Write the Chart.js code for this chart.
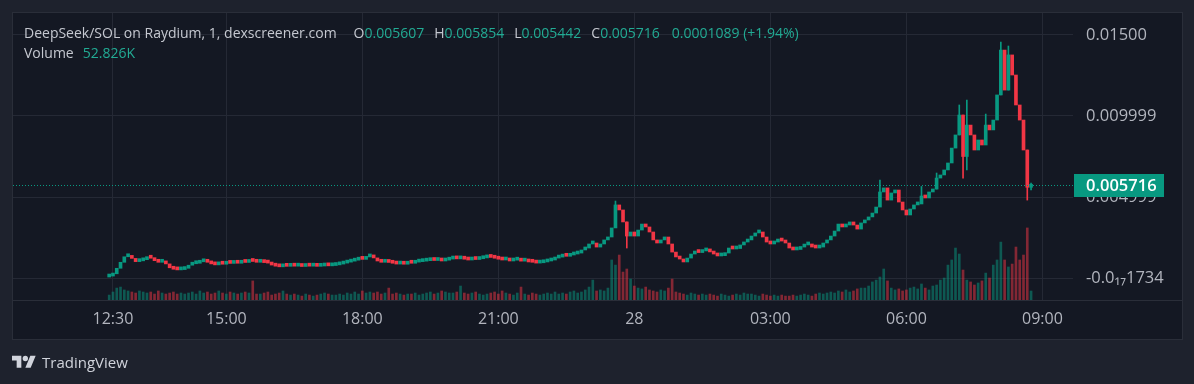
<!DOCTYPE html>
<html>
<head>
<meta charset="utf-8">
<script src="https://cdn.jsdelivr.net/npm/chart.js@4.4.1/dist/chart.umd.min.js"></script>
<style>
  html, body { margin: 0; padding: 0; background: #1e222d; }
  #wrap { position: relative; width: 1194px; height: 384px; overflow: hidden; font-family: "Open Sans", sans-serif; }
  #chart { position: absolute; left: 0; top: 0; }
  .legend { position: absolute; left: 24px; font-size: 14px; line-height: 18px; color: #c5c8d0; white-space: nowrap; }
  .legend .v { color: #22ab94; }
  .legend .g { margin-left: 10px; }
  #tv { position: absolute; left: 12px; top: 352px; display: flex; align-items: center; color: #d1d4dc; font-size: 15px; }
  #tv svg { margin-right: 6px; }
</style>
</head>
<body>
<div id="wrap">
  <canvas id="chart" width="1194" height="384"></canvas>
  <div class="legend" style="top:24px">DeepSeek/SOL on Raydium, 1, dexscreener.com<span style="margin-left:17px">O</span><span class="v">0.005607</span><span class="g">H</span><span class="v">0.005854</span><span class="g">L</span><span class="v">0.005442</span><span class="g">C</span><span class="v">0.005716</span><span class="v" style="margin-left:12px">0.0001089 (+1.94%)</span></div>
  <div class="legend" style="top:44px">Volume<span class="v" style="margin-left:9px">52.826K</span></div>
  <div id="tv"><svg width="24" height="19" viewBox="0 0 36 28"><path fill="#d1d4dc" d="M14 22H7V11H0V4h14v18zM28 22h-8l7.5-18h8L28 22z"/><circle fill="#d1d4dc" cx="20" cy="8" r="4"/></svg>TradingView</div>
</div>
<script>
// 5 minute candles, minutes counted from 27th 00:00
const startMinute = 745;
const stepMinutes = 5;
const firstOpen = 0.00006;

const closes = [
  0.00012, 0.00026, 0.00060, 0.00097, 0.00131, 0.00134, 0.00121, 0.00101, 0.00106, 0.00113,
  0.00128, 0.00122, 0.00107, 0.00097, 0.00101, 0.00087, 0.00063, 0.00054, 0.00050, 0.00052,
  0.00060, 0.00079, 0.00088, 0.00091, 0.00100, 0.00104, 0.00097, 0.00087, 0.00081, 0.00088,
  0.00085, 0.00093, 0.00090, 0.00094, 0.00091, 0.00099, 0.00096, 0.00106, 0.00102, 0.00097,
  0.00099, 0.00095, 0.00092, 0.00080, 0.00073, 0.00069, 0.00075, 0.00072, 0.00076, 0.00073,
  0.00075, 0.00071, 0.00076, 0.00073, 0.00077, 0.00072, 0.00074, 0.00079, 0.00075, 0.00077,
  0.00081, 0.00086, 0.00092, 0.00098, 0.00104, 0.00110, 0.00118, 0.00115, 0.00130, 0.00137,
  0.00124, 0.00105, 0.00097, 0.00100, 0.00096, 0.00091, 0.00086, 0.00089, 0.00085, 0.00093,
  0.00091, 0.00098, 0.00101, 0.00104, 0.00107, 0.00111, 0.00108, 0.00112, 0.00105, 0.00110,
  0.00117, 0.00124, 0.00118, 0.00121, 0.00116, 0.00111, 0.00117, 0.00114, 0.00119, 0.00124,
  0.00130, 0.00127, 0.00122, 0.00116, 0.00111, 0.00113, 0.00105, 0.00110, 0.00112, 0.00104,
  0.00106, 0.00099, 0.00097, 0.00092, 0.00094, 0.00099, 0.00105, 0.00111, 0.00123, 0.00129,
  0.00136, 0.00134, 0.00142, 0.00148, 0.00154, 0.00173, 0.00185, 0.00210, 0.00216, 0.00191,
  0.00210, 0.00235, 0.00253, 0.00309, 0.00451, 0.00420, 0.00346, 0.00259, 0.00284, 0.00259,
  0.00296, 0.00333, 0.00315, 0.00284, 0.00235, 0.00216, 0.00235, 0.00253, 0.00210, 0.00160,
  0.00130, 0.00117, 0.00099, 0.00123, 0.00148, 0.00160, 0.00157, 0.00167, 0.00173, 0.00161,
  0.00148, 0.00136, 0.00138, 0.00154, 0.00185, 0.00179, 0.00182, 0.00204, 0.00222, 0.00235,
  0.00259, 0.00278, 0.00284, 0.00253, 0.00222, 0.00210, 0.00222, 0.00235, 0.00228, 0.00216,
  0.00185, 0.00173, 0.00176, 0.00191, 0.00204, 0.00210, 0.00191, 0.00185, 0.00191, 0.00216,
  0.00235, 0.00259, 0.00290, 0.00333, 0.00315, 0.00327, 0.00346, 0.00327, 0.00302, 0.00340,
  0.00358, 0.00377, 0.00401, 0.00438, 0.00531, 0.00556, 0.00481, 0.00525, 0.00543, 0.00469,
  0.00420, 0.00389, 0.00426, 0.00451, 0.00457, 0.00506, 0.00494, 0.00531, 0.00549, 0.00617,
  0.00636, 0.00667, 0.00710, 0.00802, 0.00883, 0.01006, 0.00750, 0.00944, 0.00883, 0.00790,
  0.00852, 0.00821, 0.00944, 0.00914, 0.00975, 0.01130, 0.01407, 0.01160, 0.01377, 0.01253,
  0.01068, 0.00975, 0.00790, 0.00560, 0.005716
];

// volume per candle, in K
const vols = [
  29, 47, 70, 76, 59, 53, 47, 41, 53, 47,
  41, 47, 35, 53, 41, 35, 41, 47, 35, 41,
  35, 41, 47, 35, 53, 41, 47, 35, 41, 53,
  41, 35, 47, 41, 35, 41, 47, 41, 112, 35,
  35, 41, 47, 29, 35, 41, 53, 35, 29, 35,
  29, 23, 35, 29, 23, 29, 35, 41, 35, 29,
  29, 35, 29, 41, 35, 47, 35, 53, 41, 47,
  41, 47, 35, 41, 70, 35, 41, 35, 29, 35,
  35, 41, 29, 35, 41, 47, 35, 41, 53, 47,
  41, 41, 47, 82, 41, 35, 41, 47, 35, 29,
  35, 41, 47, 35, 53, 41, 35, 29, 41, 76,
  35, 29, 41, 35, 29, 35, 41, 35, 47, 35,
  41, 35, 47, 53, 41, 47, 59, 76, 117, 53,
  59, 53, 70, 235, 205, 264, 164, 182, 123, 82,
  70, 65, 76, 59, 53, 47, 59, 53, 70, 123,
  47, 41, 35, 29, 41, 35, 29, 35, 29, 35,
  29, 23, 35, 29, 23, 29, 35, 29, 41, 35,
  35, 29, 23, 35, 29, 23, 29, 23, 29, 23,
  23, 29, 23, 29, 35, 29, 23, 35, 41, 35,
  41, 47, 41, 53, 47, 59, 47, 53, 65, 70,
  70, 82, 106, 117, 135, 182, 112, 70, 59, 65,
  53, 59, 70, 76, 65, 94, 70, 59, 82, 88,
  117, 129, 205, 235, 305, 270, 176, 117, 106, 88,
  100, 112, 158, 129, 205, 235, 340, 235, 194, 211,
  311, 235, 264, 423, 52.8
];

// long shadows that stick out of the bodies
const wickIdx  = [134, 137, 204, 215, 219, 225, 226, 227, 232, 236, 238, 243, 244];
const wickLow  = [0.00420, 0.00185, 0.00531, 0.00494, 0.00549, 0.00883, 0.00617, 0.00667, 0.00914, 0.01130, 0.01160, 0.00481, 0.005442];
const wickHigh = [0.00475, 0.00346, 0.00605, 0.00565, 0.00648, 0.01068, 0.01006, 0.01099, 0.01012, 0.01457, 0.01432, 0.00790, 0.005854];

const xTickMinutes = [750, 900, 1080, 1260, 1440, 1620, 1800, 1980];
const xTickLabels = ["12:30", "15:00", "18:00", "21:00", "28", "03:00", "06:00", "09:00"];
const priceTicks = [0, 0.005, 0.01, 0.015];
const priceTickLabels = ["-0.0\u2081\u20871734", "0.004999", "0.009999", "0.01500"];
const lastPrice = 0.005716;

const UP = "#089981";
const DOWN = "#f23645";
const UP_VOL = "rgba(8, 153, 129, 0.5)";
const DOWN_VOL = "rgba(242, 54, 69, 0.5)";
const GRID = "#252935";
const TXT = "#b2b5be";

const times = closes.map((_, i) => startMinute + i * stepMinutes);
const opens = closes.map((c, i) => (i === 0 ? firstOpen : closes[i - 1]));
const isUp = closes.map((c, i) => c >= opens[i]);

Chart.defaults.font.family = "'Open Sans', sans-serif";

const noPad = s => {
  s.paddingTop = 0;
  s.paddingBottom = 0;
  s.paddingLeft = 0;
  s.paddingRight = 0;
};

const framePlugin = {
  id: "frame",
  beforeDraw(chart) {
    const c = chart.ctx;
    c.save();
    c.fillStyle = "#1e222d";
    c.fillRect(0, 0, chart.width, chart.height);
    c.fillStyle = "#141823";
    c.fillRect(12, 12, 1171, 328);
    c.strokeStyle = "#2a2e39";
    c.lineWidth = 1;
    c.strokeRect(12.5, 12.5, 1170, 327);
    c.restore();
  },
  afterDraw(chart) {
    const c = chart.ctx;
    const area = chart.chartArea;
    const y = Math.round(chart.scales.y.getPixelForValue(lastPrice)) + 0.5;
    c.save();
    // time axis separator
    c.strokeStyle = "#2a2e39";
    c.beginPath();
    c.moveTo(13, area.bottom + 0.5);
    c.lineTo(1182, area.bottom + 0.5);
    c.stroke();
    // last price line and label
    c.strokeStyle = UP;
    c.setLineDash([1, 2]);
    c.beginPath();
    c.moveTo(area.left, y);
    c.lineTo(area.right, y);
    c.stroke();
    c.setLineDash([]);
    c.fillStyle = UP;
    c.fillRect(area.right + 1, y - 11.5, 90, 23);
    c.fillStyle = "#ffffff";
    c.font = "600 16.5px 'Open Sans'";
    c.textBaseline = "middle";
    c.fillText(lastPrice.toFixed(6), area.right + 13, y + 1);
    c.restore();
  }
};

new Chart(document.getElementById("chart").getContext("2d"), {
  type: "bar",
  data: {
    datasets: [
      {
        label: "candles",
        data: closes.map((c, i) => ({ x: times[i], y: [opens[i], c] })),
        backgroundColor: isUp.map(u => (u ? UP : DOWN)),
        barThickness: 3,
        minBarLength: 3,
        grouped: false,
        yAxisID: "y",
        order: 1
      },
      {
        label: "wicks",
        data: wickIdx.map((k, j) => ({ x: times[k], y: [wickLow[j], wickHigh[j]] })),
        backgroundColor: wickIdx.map(k => (isUp[k] ? UP : DOWN)),
        barThickness: 1,
        grouped: false,
        yAxisID: "y",
        order: 2
      },
      {
        label: "volume",
        data: vols.map((v, i) => ({ x: times[i], y: v })),
        backgroundColor: isUp.map(u => (u ? UP_VOL : DOWN_VOL)),
        barThickness: 2,
        grouped: false,
        yAxisID: "v",
        order: 3
      }
    ]
  },
  options: {
    responsive: false,
    animation: false,
    devicePixelRatio: 1,
    layout: { padding: { left: 13, top: 13, right: 12, bottom: 45 } },
    plugins: { legend: { display: false }, tooltip: { enabled: false } },
    scales: {
      x: {
        type: "linear",
        min: 617.7,
        max: 2020.5,
        offset: false,
        grid: { offset: false, color: GRID, drawTicks: false },
        border: { display: false },
        ticks: {
          color: TXT,
          font: { size: 16 },
          padding: 10,
          maxRotation: 0,
          autoSkip: false,
          callback: (v, i) => xTickLabels[i]
        },
        afterBuildTicks: s => { s.ticks = xTickMinutes.map(v => ({ value: v })); },
        afterFit: s => { s.height = 39; noPad(s); }
      },
      y: {
        position: "right",
        min: -0.001358,
        max: 0.016358,
        grid: { color: GRID, drawTicks: false },
        border: { display: false },
        ticks: {
          color: TXT,
          font: { size: 16.5 },
          padding: 13,
          callback: (v, i) => priceTickLabels[i]
        },
        afterBuildTicks: s => { s.ticks = priceTicks.map(v => ({ value: v })); },
        afterFit: s => { s.width = 109; noPad(s); }
      },
      v: { display: false, min: 0, max: 1685 }
    }
  },
  plugins: [framePlugin]
});
</script>
</body>
</html>
